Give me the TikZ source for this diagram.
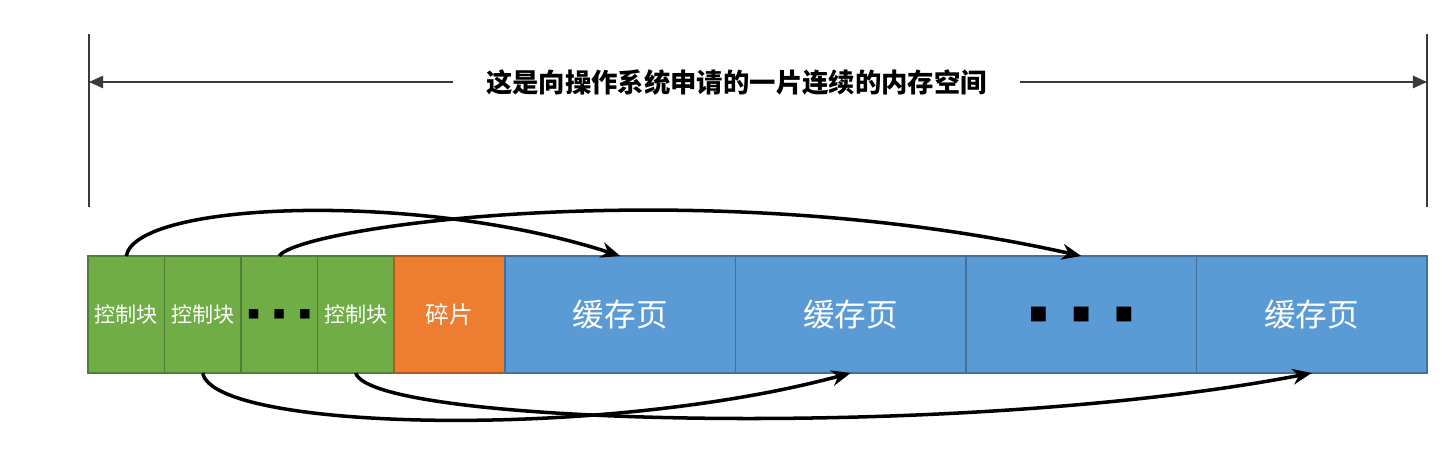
\documentclass[tikz,border=0pt]{standalone}
\usepackage{fontspec}
\usepackage{tikz}
\usetikzlibrary{arrows.meta,positioning}
\newfontfamily\cjk{Noto Sans CJK SC}
\newfontfamily\symfont{DejaVu Sans}
\definecolor{cbgreen}{HTML}{70AD47}
\definecolor{cbline}{HTML}{507E32}
\definecolor{fragorange}{HTML}{ED7D31}
\definecolor{fragline}{HTML}{AE5A21}
\definecolor{pageblue}{HTML}{5B9BD5}
\definecolor{pageline}{HTML}{41719C}
\definecolor{dimgray}{HTML}{3A3A3A}

\begin{document}
\begin{tikzpicture}
      \tikzstyle{every node}=[font=\cjk]
      \tikzstyle{block}=[draw, line width=0.8pt, minimum height=2.34cm, inner sep=0pt, outer sep=0pt, text=white]
      \tikzstyle{ctrl}=[block, fill=cbgreen, draw=cbline, minimum width=1.53cm, font=\cjk\fontsize{12}{12}\selectfont]
      \tikzstyle{frag}=[block, fill=fragorange, draw=fragline, minimum width=2.22cm, font=\cjk\fontsize{13.5}{13.5}\selectfont]
      \tikzstyle{page}=[block, fill=pageblue, draw=pageline, minimum width=4.61cm, font=\cjk\fontsize{18}{18}\selectfont]
      \tikzstyle{link}=[-{Stealth[length=11pt,width=9pt]}, line width=2pt, black]
      \tikzstyle{dim}=[-{Triangle[length=8pt,width=7pt]}, dimgray, line width=0.9pt]

      \useasboundingbox (0,0) rectangle (28.88,9.06);

      % the whole chunk
      \coordinate (ltop) at (1.78,8.38);
      \coordinate (lbot) at (1.78,4.92);
      \coordinate (lmid) at (1.78,7.42);
      \coordinate (rtop) at (28.54,8.38);
      \coordinate (rbot) at (28.54,4.92);
      \coordinate (rmid) at (28.54,7.42);
      \node[font=\cjk\bfseries\fontsize{15}{15}\selectfont, inner xsep=0.66cm] (title) at (14.73,7.42) {这是向操作系统申请的一片连续的内存空间};
      \draw[dimgray, line width=0.9pt] (ltop) -- (lbot);
      \draw[dimgray, line width=0.9pt] (rtop) -- (rbot);
      \draw[dim] (title.west) -- (lmid);
      \draw[dim] (title.east) -- (rmid);

      % blocks
      \node[ctrl, anchor=west] (cb1) at (1.76,2.77) {控制块};
      \node[ctrl, right=0pt of cb1] (cb2) {控制块};
      \node[ctrl, right=0pt of cb2, font=\symfont\fontsize{7}{7}\selectfont, text=black] (cbdots) {■\hspace{8pt}■\hspace{8pt}■};
      \node[ctrl, right=0pt of cbdots] (cb4) {控制块};
      \node[frag, right=0pt of cb4] (frag) {碎片};
      \node[page, right=0pt of frag] (cp1) {缓存页};
      \node[page, right=0pt of cp1] (cp2) {缓存页};
      \node[page, right=0pt of cp2, font=\symfont\fontsize{11}{11}\selectfont, text=black] (cpdots) {■\hspace{14pt}■\hspace{14pt}■};
      \node[page, right=0pt of cpdots] (cp4) {缓存页};

      % control block -> page
      \draw[link] (cb1.north) .. controls +(0.2,1.1) and +(-4,1.3) .. (cp1.north);
      \draw[link] (cbdots.north) .. controls +(0.4,0.6) and +(-7.6,1.7) .. (cpdots.north);
      \draw[link] (cb2.south) .. controls +(0.2,-1.15) and +(-5,-1.35) .. (cp2.south);
      \draw[link] (cb4.south) .. controls +(0.3,-1.05) and +(-7,-1.35) .. (cp4.south);
\end{tikzpicture}
\end{document}
